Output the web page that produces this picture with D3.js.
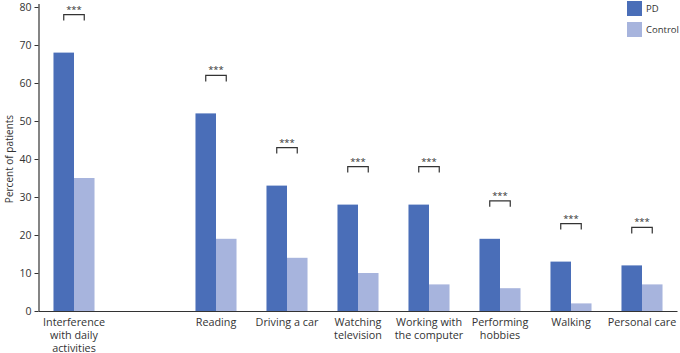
<!DOCTYPE html>
<html>
<head>
<meta charset="utf-8">
<script src="https://cdn.jsdelivr.net/npm/d3@7"></script>
<style>
  body { margin: 0; background: #fff; }
  text { font-family: "Open Sans", sans-serif; fill: #333; }
</style>
</head>
<body>
<div id="wrapper"></div>
<script>
// data
const categories = [
  ["Interference", "with daily", "activities"],
  null, // empty slot between first group and the rest
  ["Reading"],
  ["Driving a car"],
  ["Watching", "television"],
  ["Working with", "the computer"],
  ["Performing", "hobbies"],
  ["Walking"],
  ["Personal care"],
];
const pdValues = [68, null, 52, 33, 28, 28, 19, 13, 12];
const controlValues = [35, null, 19, 14, 10, 7, 6, 2, 7];
const seriesNames = ["PD", "Control"];
const significance = ["***", null, "***", "***", "***", "***", "***", "***", "***"];
const yTicks = [0, 10, 20, 30, 40, 50, 60, 70, 80];

function drawChart() {
  const width = 680;
  const height = 353;
  const margin = { top: 7, right: 2.5, bottom: 42, left: 38.5 };

  const colors = { PD: "#4a6eb8", Control: "#a7b4dd" };

  const svg = d3.select("#wrapper")
    .append("svg")
      .attr("width", width)
      .attr("height", height);

  const rows = categories.map((c, i) => ({
    idx: i,
    label: c,
    PD: pdValues[i],
    Control: controlValues[i],
    sig: significance[i],
  }));

  const x = d3.scaleBand()
    .domain(rows.map(d => d.idx))
    .range([margin.left, width - margin.right])
    .paddingInner(0)
    .paddingOuter(0);

  const xInner = d3.scaleBand()
    .domain(seriesNames)
    .range([0, x.bandwidth()])
    .paddingInner(0)
    .paddingOuter(0.73);

  const y = d3.scaleLinear()
    .domain([0, 80])
    .range([height - margin.bottom, margin.top]);

  // y axis
  const yAxis = svg.append("g")
      .attr("transform", `translate(${margin.left},0)`)
      .call(d3.axisLeft(y).tickValues(yTicks).tickSize(4).tickPadding(3));
  yAxis.select(".domain").attr("stroke", "#333").attr("stroke-width", 1.2)
      .attr("d", `M0.5,${y(0)}V${y(80) - 3}`);
  yAxis.selectAll(".tick line").attr("stroke", "#333");
  yAxis.selectAll(".tick text").attr("font-size", 10.5).attr("fill", "#444");

  // x axis line
  svg.append("line")
      .attr("x1", margin.left)
      .attr("x2", width - margin.right)
      .attr("y1", y(0) + 0.5)
      .attr("y2", y(0) + 0.5)
      .attr("stroke", "#333")
      .attr("stroke-width", 1.2);

  const data = rows.filter(d => d.label);

  const groups = svg.selectAll("g.group")
    .data(data)
    .join("g")
      .attr("class", "group")
      .attr("transform", d => `translate(${x(d.idx)},0)`);

  groups.selectAll("rect")
    .data(d => seriesNames.map(s => ({ key: s, value: d[s] })))
    .join("rect")
      .attr("x", d => xInner(d.key))
      .attr("width", xInner.bandwidth())
      .attr("y", d => y(d.value))
      .attr("height", d => y(0) - y(d.value))
      .attr("fill", d => colors[d.key]);

  // significance brackets
  const bx0 = xInner("PD") + xInner.bandwidth() / 2;
  const bx1 = xInner("Control") + xInner.bandwidth() / 2;
  groups.filter(d => d.sig).each(function(d) {
    const g = d3.select(this);
    const top = y(d.PD) - 38;
    g.append("path")
        .attr("d", `M${bx0},${top + 6}V${top}H${bx1}V${top + 6}`)
        .attr("fill", "none")
        .attr("stroke", "#333")
        .attr("stroke-width", 1.2);
    g.append("text")
        .attr("x", (bx0 + bx1) / 2)
        .attr("y", top - 2)
        .attr("text-anchor", "middle")
        .attr("font-size", 9.5)
        .text(d.sig);
  });

  // category labels
  groups.append("text")
      .attr("text-anchor", "middle")
      .attr("font-size", 10.8)
      .attr("x", x.bandwidth() / 2)
      .attr("y", y(0) + 15)
      .selectAll("tspan")
      .data(d => d.label)
      .join("tspan")
        .attr("x", x.bandwidth() / 2)
        .attr("dy", (d, i) => i === 0 ? 0 : 13)
        .text(d => d);

  // y label
  svg.append("text")
      .attr("transform", `translate(13,${(y(0) + y(80)) / 2}) rotate(-90)`)
      .attr("text-anchor", "middle")
      .attr("font-size", 10)
      .text("Percent of patients");

  // legend
  const legend = svg.append("g")
      .attr("transform", "translate(627,1)");
  const li = legend.selectAll("g")
    .data(seriesNames)
    .join("g")
      .attr("transform", (d, i) => `translate(0,${i * 21})`);
  li.append("rect")
      .attr("width", 15)
      .attr("height", 15)
      .attr("fill", d => colors[d]);
  li.append("text")
      .attr("x", 19)
      .attr("y", 7.5)
      .attr("dy", "0.35em")
      .attr("font-size", 9.5)
      .text(d => d);
}
drawChart();
</script>
</body>
</html>
